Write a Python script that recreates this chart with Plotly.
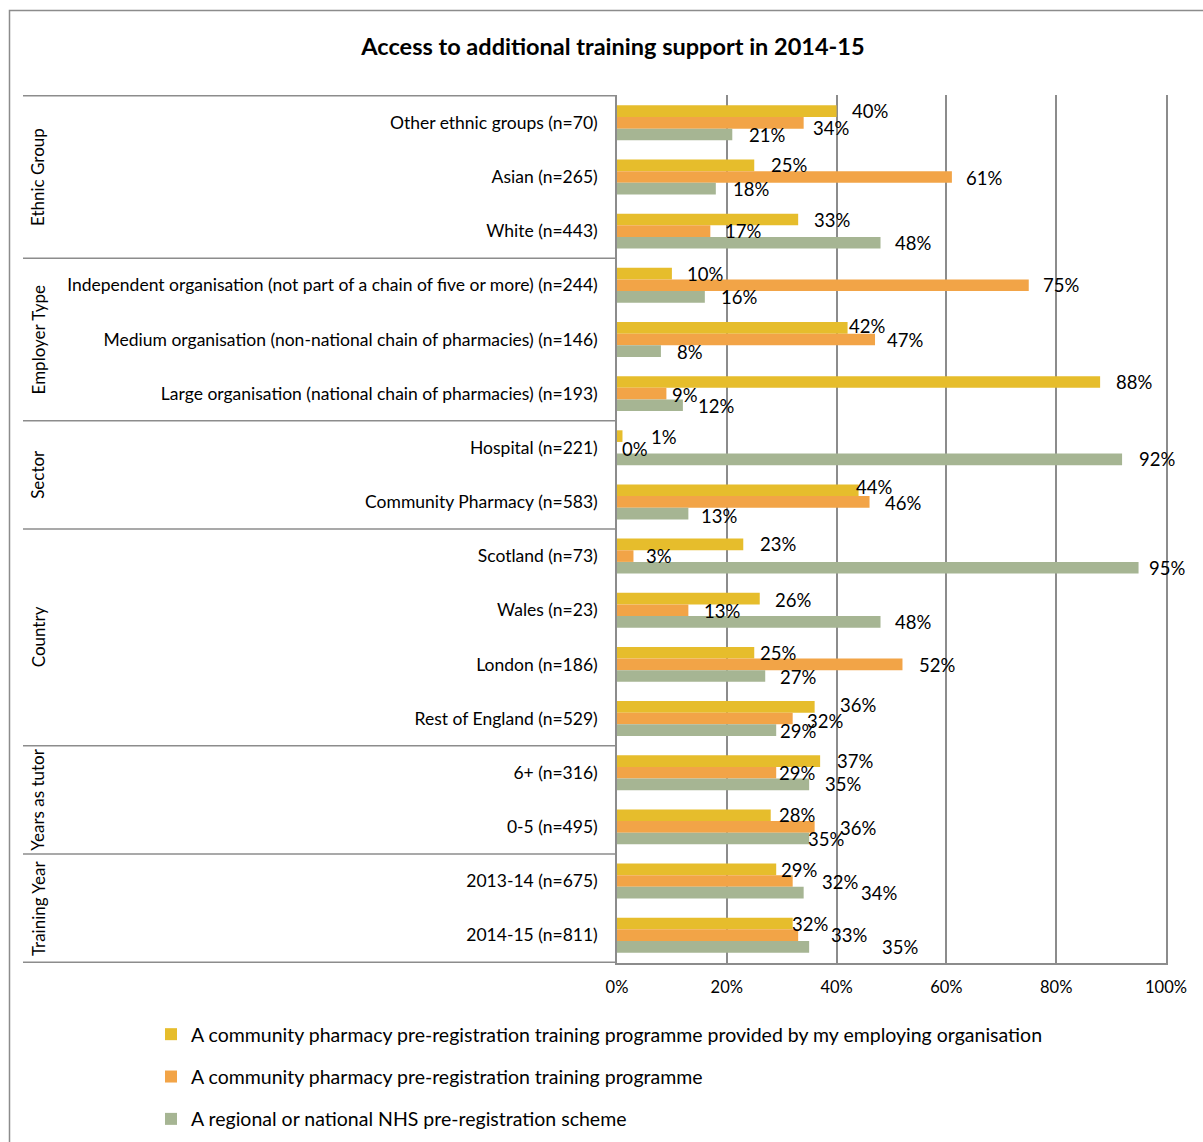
import plotly.graph_objects as go

# Survey breakdown categories, top to bottom
categories = [
    "Other ethnic groups (n=70)",
    "Asian (n=265)",
    "White (n=443)",
    "Independent organisation (not part of a chain of five or more) (n=244)",
    "Medium organisation (non-national chain of pharmacies) (n=146)",
    "Large organisation (national chain of pharmacies) (n=193)",
    "Hospital (n=221)",
    "Community Pharmacy (n=583)",
    "Scotland (n=73)",
    "Wales (n=23)",
    "London (n=186)",
    "Rest of England (n=529)",
    "6+ (n=316)",
    "0-5 (n=495)",
    "2013-14 (n=675)",
    "2014-15 (n=811)",
]

series_names = [
    "A community pharmacy pre-registration training programme provided by my employing organisation",
    "A community pharmacy pre-registration training programme",
    "A regional or national NHS pre-registration scheme",
]

# Percentages per series
employer_programme = [40, 25, 33, 10, 42, 88, 1, 44, 23, 26, 25, 36, 37, 28, 29, 32]
community_programme = [34, 61, 17, 75, 47, 9, 0, 46, 3, 13, 52, 32, 29, 36, 32, 33]
nhs_scheme = [21, 18, 48, 16, 8, 12, 92, 13, 95, 48, 27, 29, 35, 35, 34, 35]

# Category groups: (label, first index, last index)
groups = [
    ("Ethnic Group", 0, 2),
    ("Employer Type", 3, 5),
    ("Sector", 6, 7),
    ("Country", 8, 11),
    ("Years as tutor", 12, 13),
    ("Training Year", 14, 15),
]

x_ticks = [0, 20, 40, 60, 80, 100]

colors = ["#E6BD2C", "#F2A447", "#A6B593"]

# Data-label nudges in pixels (horizontal gap after bar end, vertical drop)
label_dx = [
    [16, 18, 17, 16, 2, 17, 30, -2, 18, 16, 7, 26, 18, 9, 6, 0],
    [10, 15, 16, 15, 13, 7, 6, 16, 14, 17, 18, 15, 4, 26, 30, 34],
    [18, 18, 15, 17, 17, 16, 18, 14, 11, 15, 16, 5, 17, 0, 58, 74],
]
label_dy = [
    [0, 0, 0, 0, -2, 0, 1, -3, 0, 1, 0, -2, 0, 0, 1, 0],
    [5, 1, 0, 0, 1, 1, 1, 1, 0, 1, 1, 2, 0, 1, 1, 0],
    [1, 0, 0, 0, 1, 1, 0, 2, 0, 0, 1, 1, 0, 0, 0, 0],
]

FONT = "Lato, 'Open Sans', sans-serif"
BARGAP = 0.355
n_series = 3
bar_w = (1 - BARGAP) / n_series

all_values = [employer_programme, community_programme, nhs_scheme]

fig = go.Figure()
for name, vals, col in zip(series_names, all_values, colors):
    fig.add_trace(go.Bar(
        y=categories, x=vals, name=name, orientation="h",
        marker=dict(color=col, line=dict(width=0)),
        legendgroup=name, hoverinfo="x+y",
    ))

annotations = []
for k, vals in enumerate(all_values):
    for i, v in enumerate(vals):
        annotations.append(dict(
            x=v, y=i + (k - 1) * bar_w, xref="x", yref="y",
            text=f"{v}%", showarrow=False, xanchor="left", yanchor="middle",
            xshift=label_dx[k][i] - 3, yshift=-label_dy[k][i],
            font=dict(family=FONT, size=18.5, color="#000000"),
        ))

# Plot-area geometry in pixels, used to place items in the left margin
W, H = 1203, 1142
PL, PR, PT, PB = 617, 1166, 95, 963
pw, ph = PR - PL, PB - PT


def px_x(px):
    return (px - PL) / pw


def px_y(py):
    return (PB - py) / ph


for label, a, b in groups:
    annotations.append(dict(
        x=px_x(38), xref="paper", y=(a + b) / 2, yref="y",
        text=label, textangle=-90, showarrow=False,
        xanchor="center", yanchor="middle",
        font=dict(family=FONT, size=17, color="#000000"),
    ))

shapes = []
boundaries = [-0.5] + [b + 0.5 for _, _, b in groups]
for yb in boundaries:
    shapes.append(dict(
        type="line", xref="paper", yref="y",
        x0=px_x(23), x1=0, y0=yb, y1=yb,
        line=dict(color="#8C8C8C", width=1.5),
    ))

# Outer chart frame
shapes.append(dict(
    type="rect", xref="paper", yref="paper",
    x0=px_x(9.5), x1=px_x(1215), y0=px_y(10.5), y1=px_y(1160),
    line=dict(color="#8C8C8C", width=1.5), fillcolor="rgba(0,0,0,0)",
    layer="below",
))

fig.update_layout(
    width=W, height=H,
    margin=dict(l=PL, r=W - PR, t=PT, b=H - PB, autoexpand=False),
    paper_bgcolor="white", plot_bgcolor="white",
    barmode="group", bargap=BARGAP, bargroupgap=0,
    title=dict(
        text="<b>Access to additional training support in 2014-15</b>",
        x=613 / W, xref="container", xanchor="center",
        y=1 - 47 / H, yref="container", yanchor="middle",
        font=dict(family=FONT, size=23.5, color="#000000"),
    ),
    xaxis=dict(
        range=[0, 100], tickvals=x_ticks, ticktext=[f"{t}%" for t in x_ticks],
        showgrid=True, gridcolor="#8C8C8C", gridwidth=1.5,
        showline=True, linecolor="#8C8C8C", linewidth=1.5,
        zeroline=False, ticks="", ticklabelstandoff=8,
        tickfont=dict(family=FONT, size=16.5, color="#000000"),
        fixedrange=True,
    ),
    yaxis=dict(
        autorange="reversed", type="category",
        showline=True, mirror=True, linecolor="#8C8C8C", linewidth=1.5,
        showgrid=False, zeroline=False, ticks="", ticklabelstandoff=14,
        tickfont=dict(family=FONT, size=17.5, color="#000000"),
        fixedrange=True,
    ),
    showlegend=True,
    legend=dict(
        orientation="v", x=px_x(151), xanchor="left",
        y=px_y(1015), yanchor="top",
        traceorder="grouped", tracegroupgap=14,
        font=dict(family=FONT, size=19.5, color="#000000"),
        bgcolor="rgba(0,0,0,0)",
    ),
    annotations=annotations,
    shapes=shapes,
)

fig.write_html("out.html")
